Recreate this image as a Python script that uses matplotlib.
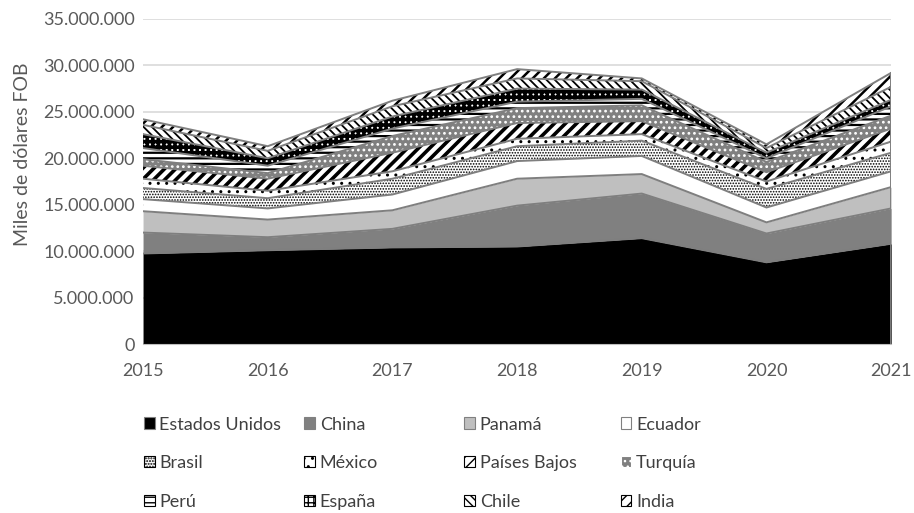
import numpy as np
import matplotlib; matplotlib.use("Agg")
import matplotlib.pyplot as plt
from matplotlib.patches import Patch
from matplotlib.ticker import FuncFormatter

plt.rcParams["font.family"] = ["Lato", "DejaVu Sans"]

years = [2015, 2016, 2017, 2018, 2019, 2020, 2021]
paises = ["Estados Unidos", "China", "Panamá", "Ecuador", "Brasil", "México",
          "Países Bajos", "Turquía", "Perú", "España", "Chile", "India"]

# miles de dolares FOB
estados_unidos = [9750000, 10100000, 10400000, 10500000, 11400000, 8800000, 10800000]
china          = [2250000, 1400000, 2000000, 4400000, 4800000, 3100000, 3800000]
panama         = [2300000, 1900000, 2000000, 2900000, 2100000, 1200000, 2300000]
ecuador        = [1300000, 1200000, 1700000, 1900000, 1950000, 1600000, 1700000]
brasil         = [1200000, 1100000, 1700000, 1600000, 1650000, 2000000, 2000000]
mexico         = [1000000, 800000, 800000, 800000, 700000, 800000, 1200000]
paises_bajos   = [1400000, 1300000, 2000000, 1700000, 1400000, 1000000, 1400000]
turquia        = [700000, 600000, 1800000, 1600000, 1700000, 1100000, 1400000]
peru           = [1200000, 800000, 800000, 700000, 700000, 400000, 1000000]
espana         = [1500000, 800000, 1300000, 1400000, 1000000, 600000, 700000]
chile          = [1000000, 800000, 1100000, 1100000, 900000, 500000, 1400000]
india          = [600000, 500000, 600000, 1000000, 300000, 400000, 1500000]

series = [estados_unidos, china, panama, ecuador, brasil, mexico,
          paises_bajos, turquia, peru, espana, chile, india]

# (relleno, trama, color trama, grosor trama)
estilos = [
    ("black",   None,       "black", 1.0),
    ("#808080", None,       "black", 1.0),
    ("#bfbfbf", None,       "black", 1.0),
    ("white",   None,       "black", 1.0),
    ("white",   "......",   "black", 0.8),
    ("white",   "..",       "black", 1.0),
    ("white",   "///",      "black", 2.6),
    ("#808080", "...",      "white", 1.2),
    ("white",   "---",      "black", 1.6),
    ("white",   "+++",      "black", 2.6),
    ("white",   "\\\\\\\\", "black", 1.3),
    ("white",   "///",      "black", 1.8),
]

fig = plt.figure(figsize=(9.14, 5.13), dpi=100)
ax = fig.add_axes([0.1565, 0.3294, 0.8185, 0.6336])

base = np.zeros(len(years))
handles = []
for nombre, vals, (fc, h, hc, hlw) in zip(paises, series, estilos):
    top = base + np.array(vals)
    with plt.rc_context({"hatch.linewidth": hlw, "hatch.color": hc}):
        ax.fill_between(years, base, top, facecolor=fc, edgecolor=hc,
                        hatch=h, linewidth=0, zorder=2)
        handles.append(Patch(facecolor=fc, edgecolor="#808080" if h is None else hc,
                             hatch=h, linewidth=0.8, label=nombre))
    ax.plot(years, top, color="#7f7f7f", lw=1.4, zorder=3)
    base = top
ax.plot([years[-1], years[-1]], [0, base[-1]], color="#7f7f7f", lw=1.4, zorder=3)

ax.set_xlim(2015, 2021)
ax.set_ylim(0, 35000000)
ax.set_yticks(np.arange(0, 35000001, 5000000))
ax.set_xticks(years)
ax.yaxis.set_major_formatter(FuncFormatter(lambda v, p: f"{int(v):,}".replace(",", ".")))
ax.grid(axis="y", color="#d9d9d9", lw=1.2, zorder=0)
ax.set_axisbelow(True)
for s in ["top", "right", "left"]:
    ax.spines[s].set_visible(False)
ax.spines["bottom"].set_color("#bfbfbf")
ax.tick_params(length=0, labelsize=13, labelcolor="#595959")
ax.tick_params(axis="x", pad=14)
ax.tick_params(axis="y", pad=6)
ax.set_ylabel("Miles de dólares FOB", fontsize=14, color="#595959")
ax.yaxis.set_label_coords(-0.150, 0.585)

# leyenda: 4 columnas, 3 filas
col_x = [0.1575, 0.333, 0.508, 0.679]
for j, cx in enumerate(col_x):
    fig.legend(handles=handles[j::4], loc="upper left", bbox_to_anchor=(cx, 0.188),
               frameon=False, fontsize=13, handlelength=0.6, handleheight=0.6,
               handletextpad=0.25, labelspacing=1.25, borderpad=0, borderaxespad=0,
               labelcolor="#404040")

fig.savefig("out.png", dpi=100)
